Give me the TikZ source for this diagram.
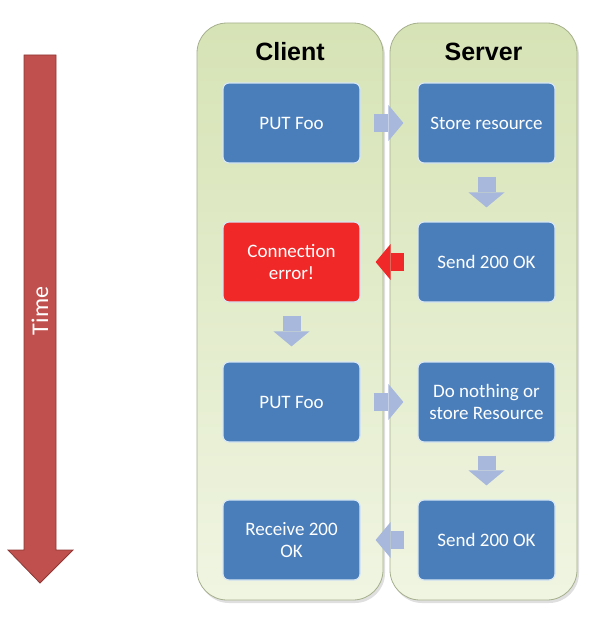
\documentclass[tikz,border=0pt]{standalone}
\usepackage{fontspec}
\setmainfont{Carlito}
\newfontfamily\titlefont{Liberation Sans}
\usetikzlibrary{arrows.meta,shadows}

\definecolor{boxblue}{RGB}{74,126,187}
\definecolor{boxedge}{RGB}{215,230,245}
\definecolor{errred}{RGB}{240,40,40}
\definecolor{flowgray}{RGB}{168,184,220}
\definecolor{timered}{RGB}{192,80,77}
\definecolor{timeedge}{RGB}{140,56,54}
\definecolor{panetop}{RGB}{214,227,181}
\definecolor{panebot}{RGB}{240,245,226}
\definecolor{paneedge}{RGB}{165,175,140}

\newcommand{\msgbox}[4]
{
	\node[msg,#1] at (#2) (#3) {#4}
}

\begin{document}
\begin{tikzpicture}[x=1pt,y=-1pt,
	msg/.style={draw=boxedge,line width=1.2pt,fill=boxblue,rounded corners=6pt,
		minimum width=137pt,minimum height=80pt,align=center,text=white,
		font=\fontsize{19}{22.5}\selectfont},
	pane/.style={draw=paneedge,line width=0.8pt,top color=panetop,bottom color=panebot,
		rounded corners=30pt,minimum width=186pt,minimum height=577pt,
		drop shadow={opacity=0.25,shadow xshift=2pt,shadow yshift=-3pt}},
	title/.style={font=\titlefont\bfseries\fontsize{25}{30}\selectfont},
	flow/.style={draw=flowgray,line width=18pt,
		-{Triangle[length=15pt,width=36pt,line width=0pt]},
		shorten <=13pt,shorten >=14pt}]
	\useasboundingbox (0,0) rectangle (591,618);

	%%% Time axis
	\filldraw[fill=timered,draw=timeedge,line width=0.8pt]
		(24,55) -- (56,55) -- (56,550) -- (73,550) -- (40,583) -- (8,550) -- (24,550) -- cycle;
	\node[rotate=90,text=white,font=\fontsize{24}{28}\selectfont] (time) at (40,311) {Time};

	%%% Lanes
	\node[pane] (client) at (290,311.5) {};
	\node[pane,minimum width=187pt] (server) at (483.5,311.5) {};
	\node[title] (clienttitle) at (290,52) {Client};
	\node[title] (servertitle) at (483.5,52) {Server};

	%%% Client side
	\msgbox{}{291.5,123}{put1}{PUT Foo};
	\msgbox{fill=errred}{291.5,262}{err}{Connection\\error!};
	\msgbox{}{291.5,402}{put2}{PUT Foo};
	\msgbox{}{291.5,540}{recv}{Receive 200\\OK};

	%%% Server side
	\msgbox{}{486.5,123}{store}{Store resource};
	\msgbox{}{486.5,262}{send1}{Send 200 OK};
	\msgbox{}{486.5,402}{maybe}{Do nothing or\\store Resource};
	\msgbox{}{486.5,540}{send2}{Send 200 OK};

	%%% Flow between steps
	\draw[flow] (put1) -- (store);
	\draw[flow] (store) -- (send1);
	\draw[flow,draw=errred,shorten <=13pt,shorten >=15pt] (send1) -- (err);
	\draw[flow,shorten >=15pt] (err) -- (put2);
	\draw[flow] (put2) -- (maybe);
	\draw[flow] (maybe) -- (send2);
	\draw[flow,shorten >=15pt] (send2) -- (recv);
\end{tikzpicture}
\end{document}
